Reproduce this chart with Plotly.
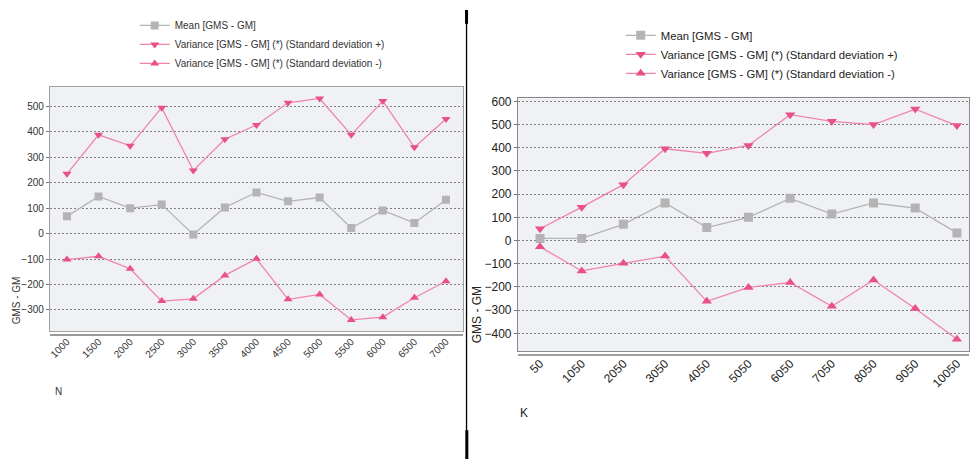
import plotly.graph_objects as go

# ---------- data ----------
n_labels = ["1000", "1500", "2000", "2500", "3000", "3500", "4000",
            "4500", "5000", "5500", "6000", "6500", "7000"]
n_mean = [68, 146, 100, 114, -3, 103, 162, 127, 142, 22, 91, 42, 133]
n_sd_plus = [235, 388, 345, 495, 248, 371, 427, 514, 531, 388, 521, 339, 450]
n_sd_minus = [-102, -89, -138, -265, -256, -164, -99, -258, -239, -339, -328, -252, -187]

k_labels = ["50", "1050", "2050", "3050", "4050", "5050", "6050",
            "7050", "8050", "9050", "10050"]
k_mean = [9, 9, 70, 162, 56, 100, 182, 114, 162, 140, 33]
k_sd_plus = [51, 144, 241, 396, 376, 410, 543, 514, 500, 567, 496]
k_sd_minus = [-27, -131, -98, -67, -262, -202, -181, -283, -170, -293, -426]

series_names = ["Mean [GMS - GM]",
                "Variance [GMS - GM] (*) (Standard deviation +)",
                "Variance [GMS - GM] (*) (Standard deviation -)"]

W, H = 970, 459
GRAY = "#b4b4b4"
PINK_LINE = "#f084aa"
PINK_MK = "#e8508a"
BG = "#eff1f4"

def px_x(x):
    return x / W

def px_y(y):
    return 1 - y / H

fig = go.Figure()

def add_series(xlabels, mean, sp, sm, xa, ya, legend, msize):
    styles = [
        (mean, GRAY, GRAY, "square"),
        (sp, PINK_LINE, PINK_MK, "triangle-down"),
        (sm, PINK_LINE, PINK_MK, "triangle-up"),
    ]
    for name, (vals, lc, mc, sym) in zip(series_names, styles):
        fig.add_trace(go.Scatter(
            x=xlabels, y=vals, name=name, mode="lines+markers",
            line=dict(color=lc, width=1.3),
            marker=dict(color=mc, symbol=sym, size=msize),
            xaxis=xa, yaxis=ya, legend=legend,
        ))

add_series(n_labels, n_mean, n_sd_plus, n_sd_minus, "x", "y", "legend", 8)
add_series(k_labels, k_mean, k_sd_plus, k_sd_minus, "x2", "y2", "legend2", 9)

# plot areas in pixels
L = dict(x0=49, x1=463, y0=84, y1=330)
R = dict(x0=518, x1=970, y0=95, y1=350)

left_font = dict(family="Liberation Sans, Arial, sans-serif", size=10, color="#333333")
right_font = dict(family="Liberation Sans, Arial, sans-serif", size=12, color="#222222")
GRID = dict(showgrid=True, gridcolor="#808080", griddash="2px,2px", gridwidth=1)

fig.update_layout(
    width=W, height=H,
    margin=dict(l=0, r=0, t=0, b=0),
    paper_bgcolor="white",
    plot_bgcolor=BG,
    showlegend=True,
    legend=dict(x=px_x(134), y=px_y(7), xanchor="left", yanchor="top",
                font=dict(family="Liberation Sans, Arial, sans-serif", size=10, color="#333333"),
                bgcolor="rgba(0,0,0,0)", itemwidth=30, tracegroupgap=0),
    legend2=dict(x=px_x(621), y=px_y(17), xanchor="left", yanchor="top",
                 font=dict(family="Liberation Sans, Arial, sans-serif", size=11.3, color="#222222"),
                 bgcolor="rgba(0,0,0,0)", itemwidth=30, tracegroupgap=0),
    xaxis=dict(domain=[px_x(L["x0"]), px_x(L["x1"])], type="category",
               range=[-0.54, 12.54], tickangle=-45, showgrid=False,
               showline=True, mirror=True, linecolor="#a0a0a0", linewidth=1,
               ticks="", tickfont=left_font, anchor="y", zeroline=False),
    yaxis=dict(domain=[px_y(L["y1"]), px_y(L["y0"])], range=[-383, 575],
               tickvals=[500, 400, 300, 200, 100, 0, -100, -200, -300],
               showline=True, mirror=True, linecolor="#a0a0a0", linewidth=1,
               ticks="outside", ticklen=3, tickcolor="#777777",
               tickfont=left_font, zeroline=False, anchor="x", **GRID),
    xaxis2=dict(domain=[px_x(R["x0"]), px_x(R["x1"])], type="category",
                range=[-0.53, 10.29], tickangle=-45, showgrid=False,
                showline=True, mirror=True, linecolor="#8a8a8a", linewidth=1,
                ticks="", tickfont=right_font, anchor="y2", zeroline=False),
    yaxis2=dict(domain=[px_y(R["y1"]), px_y(R["y0"])], range=[-476, 614],
                tickvals=[600, 500, 400, 300, 200, 100, 0, -100, -200, -300, -400],
                showline=True, mirror=True, linecolor="#8a8a8a", linewidth=1,
                ticks="outside", ticklen=3, tickcolor="#777777",
                tickfont=right_font, zeroline=False, anchor="x2", **GRID),
)

# axis titles
fig.add_annotation(text="GMS - GM", x=px_x(15), y=px_y(299), xref="paper", yref="paper",
                   xanchor="center", yanchor="middle",
                   textangle=-90, showarrow=False, font=left_font)
fig.add_annotation(text="N", x=px_x(52), y=px_y(398), xref="paper", yref="paper",
                   xanchor="left", showarrow=False, font=left_font)
fig.add_annotation(text="GMS - GM", x=px_x(477), y=px_y(314), xref="paper", yref="paper",
                   xanchor="center", yanchor="middle",
                   textangle=-90, showarrow=False, font=right_font)
fig.add_annotation(text="K", x=px_x(518), y=px_y(422), xref="paper", yref="paper",
                   xanchor="left", showarrow=False, font=right_font)

# extra axis base lines below plot areas
fig.add_shape(type="line", xref="paper", yref="paper",
              x0=px_x(L["x0"]), x1=px_x(L["x1"]), y0=px_y(334), y1=px_y(334),
              line=dict(color="#9a9a9a", width=2))
fig.add_shape(type="line", xref="paper", yref="paper",
              x0=px_x(R["x0"]), x1=px_x(R["x1"]), y0=px_y(354), y1=px_y(354),
              line=dict(color="#a0a0a0", width=2))

# vertical divider
fig.add_shape(type="line", xref="paper", yref="paper",
              x0=px_x(466.5), x1=px_x(466.5), y0=px_y(6), y1=0,
              line=dict(color="black", width=1.3))
fig.add_shape(type="line", xref="paper", yref="paper",
              x0=px_x(466.5), x1=px_x(466.5), y0=px_y(6), y1=px_y(20),
              line=dict(color="black", width=3))
fig.add_shape(type="line", xref="paper", yref="paper",
              x0=px_x(466.8), x1=px_x(466.8), y0=px_y(430), y1=0,
              line=dict(color="black", width=3))

fig.write_html("out.html",
               config={"displayModeBar": False},
               post_script="document.body.style.margin='0';document.body.style.padding='0';")
